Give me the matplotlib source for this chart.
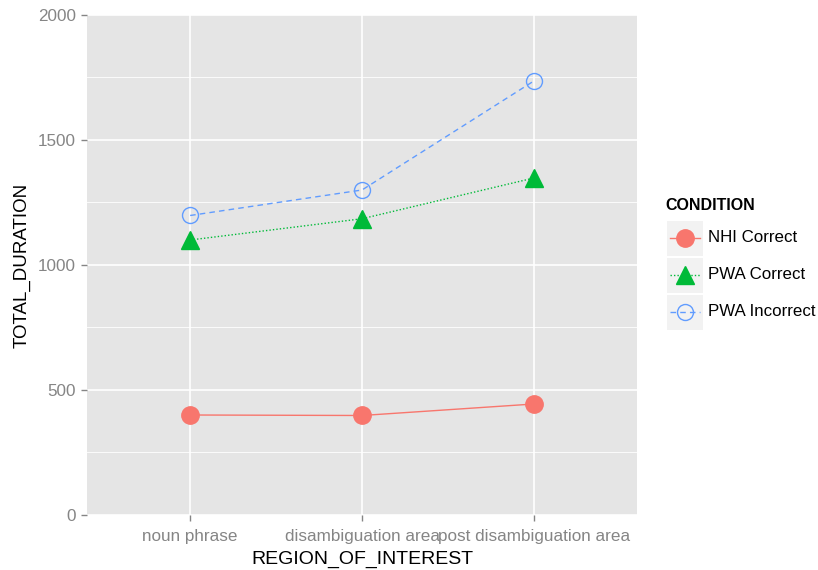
import matplotlib.pyplot as plt
from matplotlib.lines import Line2D
from matplotlib.patches import Rectangle

plt.rcParams['font.family'] = ['Liberation Sans', 'DejaVu Sans']

regions = ['noun phrase', 'disambiguation area', 'post disambiguation area']
conditions = ['NHI Correct', 'PWA Correct', 'PWA Incorrect']
nhi_correct = [400, 398, 444]
pwa_correct = [1100, 1185, 1348]
pwa_incorrect = [1198, 1300, 1736]
yticks = [0, 500, 1000, 1500, 2000]

colors = ['#F8766D', '#00BA38', '#619CFF']
styles = [
    dict(linestyle='-', marker='o', ms=12.5, mfc=colors[0], mec=colors[0]),
    dict(linestyle=(0, (1, 1.5)), marker='^', ms=13.5, mfc=colors[1], mec=colors[1]),
    dict(linestyle=(0, (4, 3)), marker='o', ms=11.5, mfc='none', mec=colors[2], mew=1.0),
]

fig = plt.figure(figsize=(8.18, 5.7), dpi=100)
ax = fig.add_axes([0.1064, 0.0965, 0.6723, 0.8772])
ax.set_facecolor('#E5E5E5')
for s in ax.spines.values():
    s.set_visible(False)

xs = range(len(regions))
series = [nhi_correct, pwa_correct, pwa_incorrect]
for vals, col, st in zip(series, colors, styles):
    ax.plot(xs, vals, color=col, lw=1.0, zorder=3, **st)

ax.set_xlim(-0.6, 2.6)
ax.set_ylim(0, 2000)
ax.set_xticks(list(xs))
ax.set_xticklabels(regions)
ax.set_yticks(yticks)
ax.set_yticks([250, 750, 1250, 1750], minor=True)
ax.grid(True, which='major', color='white', lw=1.2)
ax.grid(True, which='minor', axis='y', color='white', lw=0.6)
ax.set_axisbelow(True)
ax.tick_params(which='major', colors='#858585', labelsize=12.3, length=4, width=1, pad=4)
ax.tick_params(which='minor', length=0)
ax.tick_params(axis='x', pad=6)
ax.set_xlabel('REGION_OF_INTEREST', fontsize=14, labelpad=5)
ax.set_ylabel('TOTAL_DURATION', fontsize=13.5, labelpad=5)

# legend drawn by hand in ggplot style
fig.text(665 / 818, 1 - 205 / 570, 'CONDITION', fontsize=11.5, fontweight='bold', va='center')
key_y = [238, 275, 312]
for lab, col, st, ky in zip(conditions, colors, styles, key_y):
    fig.add_artist(Rectangle((667 / 818, 1 - (ky + 17.5) / 570), 36 / 818, 35 / 570,
                             transform=fig.transFigure, facecolor='#F2F2F2', edgecolor='none'))
    fig.add_artist(Line2D([670 / 818, 700 / 818], [1 - ky / 570] * 2, color=col, lw=1.0,
                          transform=fig.transFigure, **{**st, 'marker': 'None'}))
    fig.add_artist(Line2D([685 / 818], [1 - ky / 570], color=col, transform=fig.transFigure,
                          **{**st, 'linestyle': 'None'}))
    fig.text(708 / 818, 1 - ky / 570, lab, fontsize=12.2, va='center')

fig.savefig('out.png', dpi=100)
